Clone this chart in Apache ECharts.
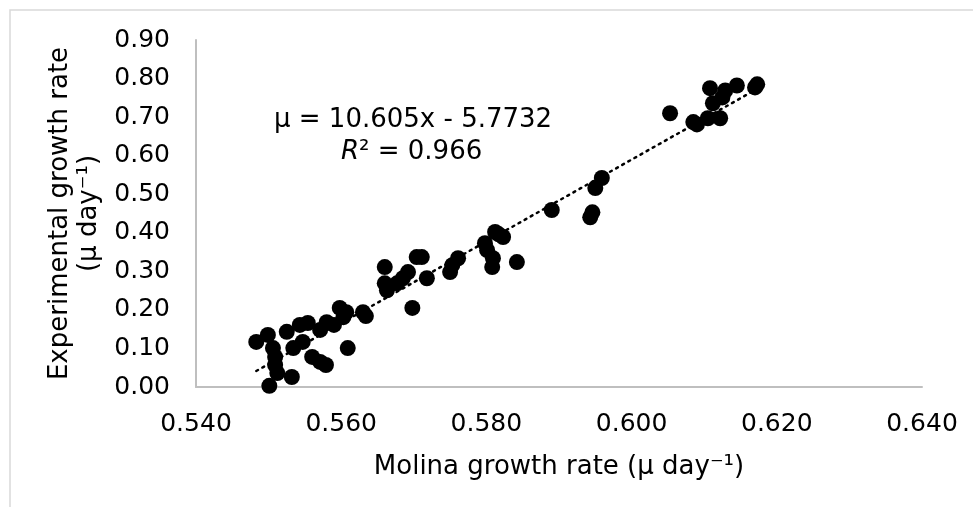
<!DOCTYPE html>
<html>
<head>
<meta charset="utf-8">
<script src="https://cdn.jsdelivr.net/npm/echarts@6/dist/echarts.min.js"></script>
<style>
  html, body { margin: 0; padding: 0; background: #fff; }
  #main { width: 973px; height: 507px; }
</style>
</head>
<body>
<div id="main"></div>
<script>
// Molina growth rate (x) vs experimental growth rate (y)
var molinaRate = [
  0.5483, 0.5499, 0.5501, 0.5506, 0.5509, 0.5509, 0.5512, 0.5532, 0.5525, 0.5543,
  0.5554, 0.5534, 0.5547, 0.5560, 0.5571, 0.5571, 0.5580, 0.5579, 0.5598, 0.5603,
  0.5607, 0.5590, 0.5609, 0.5630, 0.5634, 0.5660, 0.5660, 0.5663, 0.5677, 0.5685,
  0.5692, 0.5704, 0.5711, 0.5718, 0.5698, 0.5750, 0.5753, 0.5761, 0.5798, 0.5801,
  0.5809, 0.5808, 0.5812, 0.5823, 0.5817, 0.5842, 0.5890, 0.5943, 0.5946, 0.5950,
  0.5959, 0.6053, 0.6085, 0.6090, 0.6105, 0.6122, 0.6112, 0.6108, 0.6129, 0.6125,
  0.6145, 0.6173, 0.6170
];
var expRate = [
  0.117, 0.135, 0.003, 0.101, 0.078, 0.057, 0.036, 0.026, 0.143, 0.161,
  0.166, 0.101, 0.117, 0.078, 0.065, 0.148, 0.168, 0.057, 0.205, 0.181,
  0.194, 0.161, 0.101, 0.194, 0.184, 0.311, 0.269, 0.251, 0.269, 0.282,
  0.298, 0.337, 0.337, 0.282, 0.205, 0.298, 0.316, 0.334, 0.373, 0.355,
  0.334, 0.311, 0.402, 0.389, 0.396, 0.324, 0.459, 0.440, 0.453, 0.516,
  0.542, 0.710, 0.687, 0.681, 0.697, 0.697, 0.736, 0.775, 0.769, 0.751,
  0.782, 0.785, 0.777
];

// linear trendline as printed on the chart
var slope = 10.605;
var intercept = -5.7732;
var trendX = [0.5483, 0.6177];

var xTicks = { min: 0.54, max: 0.64, step: 0.02 };
var yTicks = { min: 0, max: 0.9, step: 0.1 };

var points = molinaRate.map(function (x, i) { return [x, expRate[i]]; });
var trendPts = trendX.map(function (x) { return [x, slope * x + intercept]; });

var font = 'DejaVu Sans';
var chart = echarts.init(document.getElementById('main'));

var option = {
  backgroundColor: '#fff',
  animation: false,
  textStyle: { fontFamily: font },
  grid: { left: 196, right: 51, top: 40, bottom: 120 },
  xAxis: {
    type: 'value',
    min: xTicks.min, max: xTicks.max, interval: xTicks.step,
    name: 'Molina growth rate (μ day⁻¹)',
    nameLocation: 'middle',
    nameGap: 67,
    nameTextStyle: { color: '#000', fontSize: 26, fontFamily: font },
    axisLine: { lineStyle: { color: '#bfbfbf', width: 2 } },
    axisTick: { show: false },
    splitLine: { show: false },
    axisLabel: {
      color: '#000', fontSize: 25, margin: 25, fontFamily: font,
      formatter: function (v) { return v.toFixed(3); }
    }
  },
  yAxis: {
    type: 'value',
    min: yTicks.min, max: yTicks.max, interval: yTicks.step,
    name: 'Experimental growth rate\n(μ day⁻¹)',
    nameLocation: 'middle',
    nameGap: 88,
    nameTextStyle: { color: '#000', fontSize: 26, lineHeight: 29, fontFamily: font },
    axisLine: { show: true, lineStyle: { color: '#bfbfbf', width: 2 } },
    axisTick: { show: false },
    splitLine: { show: false },
    axisLabel: {
      color: '#000', fontSize: 25, margin: 26, fontFamily: font,
      formatter: function (v) { return v.toFixed(2); }
    }
  },
  graphic: [
    {
      type: 'rect', silent: true, z: -1,
      shape: { x: 10, y: 10, width: 1000, height: 600 },
      style: { fill: null, stroke: '#d9d9d9', lineWidth: 1.5 }
    },
    {
      type: 'text', left: 274, top: 107,
      style: { text: 'μ = 10.605x - 5.7732', fill: '#000', font: '26px "DejaVu Sans"' }
    },
    {
      type: 'text', left: 341, top: 139,
      style: {
        text: '{i|R}{n|² = 0.966}',
        rich: {
          i: { fontStyle: 'italic', fontSize: 26, fontFamily: font, fill: '#000' },
          n: { fontSize: 26, fontFamily: font, fill: '#000' }
        }
      }
    }
  ],
  series: [
    {
      type: 'scatter',
      data: points,
      symbol: 'circle',
      symbolSize: 16,
      itemStyle: { color: '#000', opacity: 1 }
    },
    {
      type: 'line',
      data: trendPts,
      symbol: 'none',
      silent: true,
      lineStyle: { color: '#000', width: 2.5, type: [2, 5], cap: 'round' },
      z: 3
    }
  ]
};

chart.setOption(option);
</script>
</body>
</html>
